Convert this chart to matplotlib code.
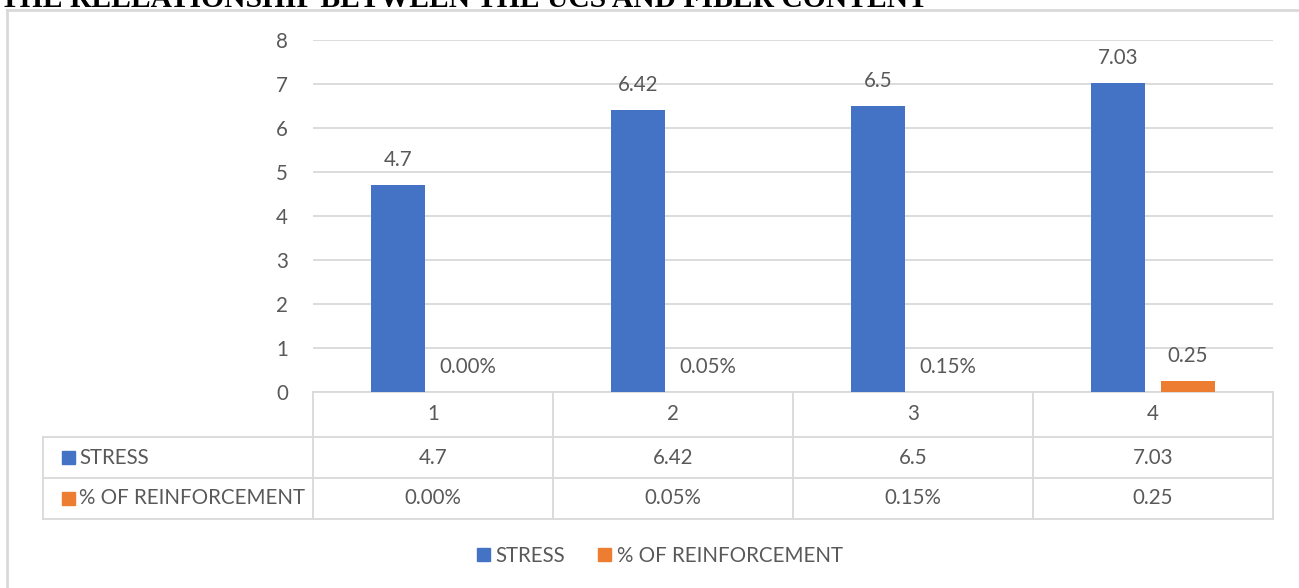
import matplotlib
matplotlib.use("Agg")
import matplotlib.pyplot as plt
from matplotlib.patches import Rectangle
from matplotlib.lines import Line2D
from matplotlib.transforms import blended_transform_factory

categories = ["1", "2", "3", "4"]
stress = [4.7, 6.42, 6.5, 7.03]
reinforcement = [0.0, 0.0005, 0.0015, 0.25]
stress_labels = ["4.7", "6.42", "6.5", "7.03"]
reinforcement_labels = ["0.00%", "0.05%", "0.15%", "0.25"]
series_names = ["STRESS", "% OF REINFORCEMENT"]
y_ticks = [0, 1, 2, 3, 4, 5, 6, 7, 8]
title = "THE RELLATIONSHIP BETWEEN THE UCS AND FIBER CONTENT"

BLUE = "#4472C4"
ORANGE = "#ED7D31"
GRID = "#D9D9D9"
TEXT = "#595959"
FONT = "Lato"
FS = 14.8

W, H = 1299, 588
fig = plt.figure(figsize=(W / 100, H / 100), dpi=100)

# plot area (pixel layout converted to figure fractions)
x0, x1 = 313, 1273
y_top, y_zero = 40, 392
ax_w, ax_h = x1 - x0, y_zero - y_top
ax = fig.add_axes([x0 / W, 1 - y_zero / H, ax_w / W, ax_h / H])

n = len(categories)
xs = list(range(n))
bw = 0.225
off = 0.144
b1 = ax.bar([x - off for x in xs], stress, width=bw, color=BLUE, zorder=3)
b2 = ax.bar([x + off for x in xs], reinforcement, width=bw, color=ORANGE, zorder=3)

for bars, labels in ((b1, stress_labels), (b2, reinforcement_labels)):
    for rect, lab in zip(bars, labels):
        ax.annotate(lab, (rect.get_x() + rect.get_width() / 2, rect.get_height()),
                    xytext=(0, 18), textcoords="offset points", ha="center",
                    va="center", fontsize=FS, color=TEXT, family=FONT)

ax.set_xlim(-0.5, n - 0.5)
ax.set_ylim(0, 8)
ax.set_yticks(y_ticks)
ax.set_yticklabels([str(t) for t in y_ticks], fontsize=FS, color=TEXT, family=FONT)
ax.tick_params(axis="y", length=0, pad=18)
ax.set_xticks([])
ax.yaxis.grid(True, color=GRID, linewidth=1.3, zorder=0)
ax.set_axisbelow(True)
for s in ax.spines.values():
    s.set_visible(False)

# data table under the plot area
def ay(py):
    return (y_zero - py) / ax_h

def axx(px):
    return (px - x0) / ax_w

blend = blended_transform_factory(ax.transData, ax.transAxes)
row_edges = [392, 437, 478, 519]
lab_left = 43
lw = 1.3
for i, py in enumerate(row_edges):
    left = x0 if i == 0 else lab_left
    ax.add_line(Line2D([axx(left), 1], [ay(py), ay(py)], transform=ax.transAxes,
                       color=GRID, linewidth=lw, clip_on=False, zorder=1))
for k in range(n + 1):
    xb = k - 0.5
    ax.add_line(Line2D([xb, xb], [ay(row_edges[0]), ay(row_edges[-1])], transform=blend,
                       color=GRID, linewidth=lw, clip_on=False, zorder=1))
ax.add_line(Line2D([axx(lab_left)] * 2, [ay(row_edges[1]), ay(row_edges[-1])],
                   transform=ax.transAxes, color=GRID, linewidth=lw, clip_on=False))

rows = [categories, stress_labels, reinforcement_labels]
for r, row in enumerate(rows):
    yc = ay((row_edges[r] + row_edges[r + 1]) / 2)
    for x, txt in zip(xs, row):
        ax.text(x, yc, txt, transform=blend, ha="center", va="center",
                fontsize=FS, color=TEXT, family=FONT, clip_on=False)

# row labels with colour keys
for r, (name, col) in enumerate(zip(series_names, [BLUE, ORANGE]), start=1):
    yc = (row_edges[r] + row_edges[r + 1]) / 2
    ax.add_patch(Rectangle((axx(62), ay(yc + 6.5)), 13 / ax_w, 13 / ax_h,
                           transform=ax.transAxes, color=col, clip_on=False))
    ax.text(axx(79), ay(yc), name, transform=ax.transAxes, ha="left", va="center",
            fontsize=FS, color=TEXT, family=FONT, clip_on=False)

# legend
leg = fig.legend([Rectangle((0, 0), 1, 1, color=BLUE), Rectangle((0, 0), 1, 1, color=ORANGE)],
                 series_names, loc="center", bbox_to_anchor=(660 / W, 1 - 556 / H),
                 ncol=2, frameon=False, handlelength=0.6, handleheight=0.6,
                 handletextpad=0.3, columnspacing=1.6,
                 prop={"family": FONT, "size": FS})
for t in leg.get_texts():
    t.set_color(TEXT)

# chart frame (left and top edges)
fig.lines.append(Line2D([7 / W, 7 / W], [0, 1 - 10 / H], transform=fig.transFigure,
                        color=GRID, linewidth=2))
fig.lines.append(Line2D([7 / W, 1], [1 - 10 / H, 1 - 10 / H], transform=fig.transFigure,
                        color=GRID, linewidth=2))

fig.text(0, 1 - 7 / H, title, ha="left", va="baseline", fontsize=21.3,
         fontweight="bold", family="Liberation Serif", color="black")

fig.savefig("out.png", dpi=100)
